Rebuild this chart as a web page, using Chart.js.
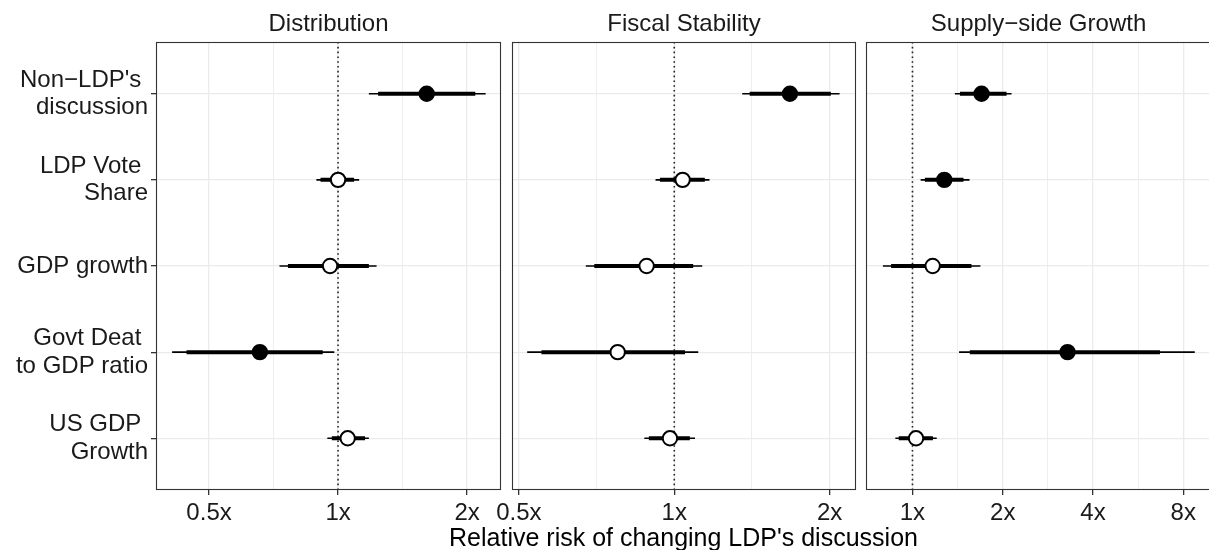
<!DOCTYPE html>
<html>
<head>
<meta charset="utf-8">
<script src="https://cdn.jsdelivr.net/npm/chart.js@4"></script>
<style>
html, body { margin: 0; padding: 0; background: #fff; overflow: hidden; width: 1209px; height: 550px; }
canvas { position: absolute; left: 0; top: 0; }
</style>
</head>
<body>
<canvas id="panel0" width="1230" height="550"></canvas>
<canvas id="panel1" width="1230" height="550"></canvas>
<canvas id="panel2" width="1230" height="550"></canvas>
<script>
// row labels (top to bottom)
const categories = [
    ["Non\u2212LDP's ", "discussion"],
    ["LDP Vote ", "Share"],
    ["GDP growth"],
    ["Govt Deat ", "to GDP ratio"],
    ["US GDP ", "Growth"]
];
const panelTitles = ['Distribution', 'Fiscal Stability', 'Supply\u2212side Growth'];
const xTitle = "Relative risk of changing LDP's discussion";
const refValue = 1;

// Distribution
const distEst     = [1.61, 1.00, 0.958, 0.657, 1.053];
const distInnerLo = [1.24, 0.91, 0.764, 0.443, 0.967];
const distInnerHi = [2.09, 1.09, 1.18, 0.921, 1.156];
const distOuterLo = [1.18, 0.89, 0.73, 0.41, 0.944];
const distOuterHi = [2.21, 1.12, 1.23, 0.98, 1.18];
const distFilled  = [true, false, false, true, false];

// Fiscal Stability
const fiscEst     = [1.675, 1.038, 0.884, 0.777, 0.981];
const fiscInnerLo = [1.40, 0.938, 0.70, 0.553, 0.893];
const fiscInnerHi = [2.01, 1.146, 1.088, 1.049, 1.072];
const fiscOuterLo = [1.354, 0.92, 0.674, 0.519, 0.875];
const fiscOuterHi = [2.09, 1.17, 1.133, 1.113, 1.097];
const fiscFilled  = [true, false, false, false, false];

// Supply-side Growth
const suppEst     = [1.70, 1.277, 1.168, 3.29, 1.028];
const suppInnerLo = [1.44, 1.10, 0.849, 1.553, 0.90];
const suppInnerHi = [2.06, 1.48, 1.573, 6.69, 1.17];
const suppOuterLo = [1.385, 1.065, 0.797, 1.43, 0.877];
const suppOuterHi = [2.14, 1.55, 1.685, 8.74, 1.205];
const suppFilled  = [true, true, false, true, false];

// x axes (log scale, free per panel)
const majorTicks = [[0.5, 1, 2], [0.5, 1, 2], [1, 2, 4, 8]];
const majorLabels = [['0.5x', '1x', '2x'], ['0.5x', '1x', '2x'], ['1x', '2x', '4x', '8x']];
const minorTicks = [[0.7071, 1.4142], [0.7071, 1.4142], [1.4142, 2.8284, 5.6569]];
const xMin = [0.376, 0.485, 0.711];
const xMax = [2.40, 2.249, 9.9];

// panel placement on the page
const panelLeft = [156, 512, 866];
const panelRight = [501, 856, 1211];
const canvasWidth = 1230;

const fontFamily = "'Liberation Sans', Arial, Helvetica, sans-serif";

const panels = [
    { est: distEst, inLo: distInnerLo, inHi: distInnerHi, outLo: distOuterLo, outHi: distOuterHi, filled: distFilled },
    { est: fiscEst, inLo: fiscInnerLo, inHi: fiscInnerHi, outLo: fiscOuterLo, outHi: fiscOuterHi, filled: fiscFilled },
    { est: suppEst, inLo: suppInnerLo, inHi: suppInnerHi, outLo: suppOuterLo, outHi: suppOuterHi, filled: suppFilled }
];

const panelBorder = {
    id: 'panelBorder',
    afterDatasetsDraw(chart) {
        const a = chart.chartArea;
        const c = chart.ctx;
        c.save();
        c.strokeStyle = '#333333';
        c.lineWidth = 1.1;
        c.strokeRect(Math.round(a.left) + 0.5, Math.round(a.top) + 0.5,
            Math.round(a.right - a.left) - 1, Math.round(a.bottom - a.top) - 1);
        c.restore();
    }
};

// shared x title, centred under all three panels (drawn by the middle chart)
const sharedXTitle = {
    id: 'sharedXTitle',
    afterDraw(chart) {
        const c = chart.ctx;
        c.save();
        c.font = '25px ' + fontFamily;
        c.fillStyle = '#000';
        c.textAlign = 'center';
        c.textBaseline = 'alphabetic';
        c.fillText(xTitle, (panelLeft[0] + panelRight[2]) / 2, 546);
        c.restore();
    }
};

function buildDatasets(p) {
    const ds = [];
    // points on top
    ds.push({
        data: p.est.map((v, i) => ({ x: v, y: i + 1 })),
        showLine: false,
        pointRadius: 7.2,
        pointHoverRadius: 7.2,
        pointBorderWidth: 2,
        pointBorderColor: '#000',
        pointBackgroundColor: p.filled.map(f => f ? '#000' : '#fff')
    });
    p.est.forEach((v, i) => {
        ds.push({
            data: [{ x: p.inLo[i], y: i + 1 }, { x: p.inHi[i], y: i + 1 }],
            showLine: true, borderColor: '#000', borderWidth: 4, pointRadius: 0
        });
    });
    p.est.forEach((v, i) => {
        ds.push({
            data: [{ x: p.outLo[i], y: i + 1 }, { x: p.outHi[i], y: i + 1 }],
            showLine: true, borderColor: '#000', borderWidth: 1.6, pointRadius: 0
        });
    });
    // dotted reference line at 1x
    ds.push({
        data: [{ x: refValue, y: 0.4 }, { x: refValue, y: 5.6 }],
        showLine: true, borderColor: '#222222', borderWidth: 1.6,
        borderDash: [1.6, 3.2], pointRadius: 0
    });
    return ds;
}

panels.forEach((p, k) => {
    const ctx = document.getElementById('panel' + k).getContext('2d');
    const allTicks = majorTicks[k].concat(minorTicks[k]).sort((a, b) => a - b);
    const isMajor = v => majorTicks[k].some(m => Math.abs(m - v) < 1e-6);

    new Chart(ctx, {
        type: 'scatter',
        data: { datasets: buildDatasets(p) },
        plugins: k === 1 ? [panelBorder, sharedXTitle] : [panelBorder],
        options: {
            responsive: false,
            animation: false,
            events: [],
            layout: {
                padding: { left: k === 0 ? 0 : panelLeft[k], right: canvasWidth - panelRight[k], top: 0, bottom: 0 }
            },
            plugins: {
                legend: { display: false },
                tooltip: { enabled: false },
                title: {
                    display: true,
                    text: panelTitles[k],
                    fullSize: false,
                    color: '#1a1a1a',
                    font: { family: fontFamily, size: 24, weight: 'normal' },
                    padding: { top: 10, bottom: 3.2 }
                }
            },
            scales: {
                x: {
                    type: 'logarithmic',
                    min: xMin[k],
                    max: xMax[k],
                    afterBuildTicks: s => { s.ticks = allTicks.map(v => ({ value: v })); },
                    afterFit: s => { s.height = 60; },
                    ticks: {
                        autoSkip: false,
                        maxRotation: 0,
                        padding: 4,
                        color: '#1a1a1a',
                        font: { family: fontFamily, size: 24 },
                        callback: v => {
                            const idx = majorTicks[k].findIndex(m => Math.abs(m - v) < 1e-6);
                            return idx >= 0 ? majorLabels[k][idx] : '';
                        }
                    },
                    grid: {
                        color: c => isMajor(c.tick.value) ? '#EBEBEB' : '#EEEEEE',
                        lineWidth: c => isMajor(c.tick.value) ? 1.3 : 1,
                        tickColor: c => isMajor(c.tick.value) ? '#333333' : 'rgba(0,0,0,0)',
                        tickLength: 5
                    },
                    border: { display: false }
                },
                y: {
                    type: 'linear',
                    min: 0.4,
                    max: 5.6,
                    reverse: true,
                    afterBuildTicks: s => { s.ticks = [1, 2, 3, 4, 5].map(v => ({ value: v })); },
                    afterFit: s => { s.width = k === 0 ? panelLeft[0] : 0; },
                    ticks: {
                        display: k === 0,
                        padding: 3,
                        color: '#1a1a1a',
                        font: { family: fontFamily, size: 24, lineHeight: 1.15 },
                        callback: v => categories[v - 1]
                    },
                    grid: {
                        color: '#EBEBEB',
                        lineWidth: 1.3,
                        drawTicks: k === 0,
                        tickLength: 5,
                        tickColor: '#333333'
                    },
                    border: { display: false }
                }
            }
        }
    });
});
</script>
</body>
</html>
